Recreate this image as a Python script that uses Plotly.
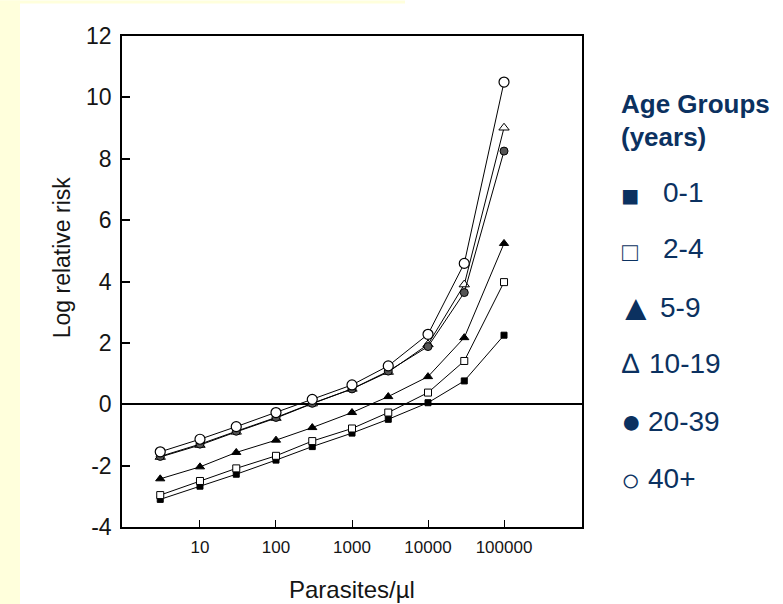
import plotly.graph_objects as go

# ---- data ----
parasites = [3, 10, 30, 100, 300, 1000, 3000, 10000, 30000, 100000]
age_groups = ["0-1", "2-4", "5-9", "10-19", "20-39", "40+"]
risk_0_1 = [-3.10, -2.67, -2.28, -1.82, -1.38, -0.94, -0.49, 0.05, 0.76, 2.25]
risk_2_4 = [-2.96, -2.50, -2.09, -1.68, -1.20, -0.79, -0.27, 0.38, 1.41, 3.98]
risk_5_9 = [-2.43, -2.04, -1.57, -1.17, -0.76, -0.27, 0.25, 0.90, 2.17, 5.24]
risk_10_19 = [-1.72, -1.33, -0.90, -0.45, 0.02, 0.50, 1.05, 1.95, 3.90, 9.01]
risk_20_39 = [-1.70, -1.30, -0.88, -0.43, 0.03, 0.50, 1.08, 1.88, 3.64, 8.25]
risk_40p = [-1.55, -1.14, -0.73, -0.27, 0.16, 0.63, 1.25, 2.28, 4.59, 10.50]
x_tickvals = [10, 100, 1000, 10000, 100000]
x_ticktext = ["10", "100", "1000", "10000", "100000"]
y_tickvals = [-4, -2, 0, 2, 4, 6, 8, 10, 12]
y_ticktext = ["-4", "-2", "0", "2", "4", "6", "8", "10", "12"]
legend_symbols = ["■", "□", "▲", "∆", "●", "○"]

# ---- layout geometry (pixels) ----
W_PX, H_PX = 783, 604
L, R, T, B = 122, 582, 35.5, 527
PW, PH = R - L, B - T


def px(x):
    return (x - L) / PW


def py(y):
    return (B - y) / PH


NAVY = "#0B3160"
INK = "#151515"
FONT = "Liberation Sans, Arial, sans-serif"

styles = {
    "0-1": dict(symbol="square", size=6, color="black", line=dict(color="black", width=1)),
    "2-4": dict(symbol="square", size=7, color="white", line=dict(color="black", width=1)),
    "5-9": dict(symbol="triangle-up", size=8, color="black", line=dict(color="black", width=1)),
    "10-19": dict(symbol="triangle-up", size=9, color="white", line=dict(color="black", width=1)),
    "20-39": dict(symbol="circle", size=8, color="#555555", line=dict(color="black", width=1)),
    "40+": dict(symbol="circle", size=10, color="white", line=dict(color="black", width=1.2)),
}
series = {
    "0-1": risk_0_1,
    "2-4": risk_2_4,
    "5-9": risk_5_9,
    "10-19": risk_10_19,
    "20-39": risk_20_39,
    "40+": risk_40p,
}

fig = go.Figure()
for name in age_groups:
    fig.add_trace(go.Scatter(
        x=parasites, y=series[name], name=name, mode="lines+markers",
        line=dict(color="black", width=1),
        marker=styles[name], showlegend=False,
    ))

shapes = [
    # yellow slide background strips
    dict(type="rect", xref="paper", yref="paper", x0=px(0), x1=px(20), y0=py(H_PX), y1=py(0),
         fillcolor="#FFFFDC", line=dict(width=0), layer="below"),
    dict(type="rect", xref="paper", yref="paper", x0=px(0), x1=px(405), y0=py(3), y1=py(0),
         fillcolor="#FFFFDC", line=dict(width=0), layer="below"),
]

annotations = [
    dict(text="Log relative risk", xref="paper", yref="paper", x=px(62), y=py(257),
         textangle=-90, showarrow=False, font=dict(size=23, color=INK, family=FONT),
         xanchor="center", yanchor="middle"),
    dict(text="Parasites/µl", xref="paper", yref="paper", x=px(352), y=py(590),
         showarrow=False, font=dict(size=24, color=INK, family=FONT),
         xanchor="center", yanchor="middle"),
    dict(text="<b>Age Groups</b>", xref="paper", yref="paper", x=px(619), y=py(104),
         showarrow=False, font=dict(size=26, color=NAVY, family=FONT),
         xanchor="left", yanchor="middle"),
    dict(text="<b>(years)</b>", xref="paper", yref="paper", x=px(619), y=py(137),
         showarrow=False, font=dict(size=26, color=NAVY, family=FONT),
         xanchor="left", yanchor="middle"),
]

row_y = [192, 248, 307, 363, 421, 478]
sym_x = [630, 630, 636, 631, 631, 630]
sym_y = [195, 252, 307, 363, 421, 480]
sym_size = [30, 26, 36, 28, 34, 32]
text_x = [663, 663, 660, 649, 648, 648]
for i, name in enumerate(age_groups):
    annotations.append(dict(text=legend_symbols[i], xref="paper", yref="paper",
                            x=px(sym_x[i]), y=py(sym_y[i]), showarrow=False,
                            font=dict(size=sym_size[i], color=NAVY, family=FONT),
                            xanchor="center", yanchor="middle"))
    annotations.append(dict(text=name, xref="paper", yref="paper",
                            x=px(text_x[i] - 2), y=py(row_y[i]), showarrow=False,
                            font=dict(size=28, color=NAVY, family=FONT),
                            xanchor="left", yanchor="middle"))

fig.update_layout(
    width=W_PX, height=H_PX,
    margin=dict(l=L, r=W_PX - R, t=T, b=H_PX - B, pad=0),
    paper_bgcolor="white", plot_bgcolor="white",
    shapes=shapes, annotations=annotations,
    font=dict(family=FONT, color=INK),
)
fig.update_xaxes(
    type="log", range=[-0.026, 6.026],
    tickvals=x_tickvals, ticktext=x_ticktext,
    ticks="inside", ticklen=7, tickcolor="black", tickwidth=1,
    tickfont=dict(size=17, color=INK, family=FONT), ticklabelstandoff=4,
    showline=True, mirror=True, linecolor="black", linewidth=1.5,
    showgrid=False, zeroline=False,
)
fig.update_yaxes(
    range=[-4, 12], tickvals=y_tickvals, ticktext=y_ticktext,
    ticks="inside", ticklen=8, tickcolor="black", tickwidth=1.5,
    tickfont=dict(size=23, color=INK, family=FONT), ticklabelstandoff=4,
    showline=True, mirror=True, linecolor="black", linewidth=1.5,
    showgrid=False, zeroline=True, zerolinecolor="black", zerolinewidth=1.5,
)

fig.write_html("out.html", config={"displayModeBar": False},
               post_script="document.body.style.margin='0px';")
